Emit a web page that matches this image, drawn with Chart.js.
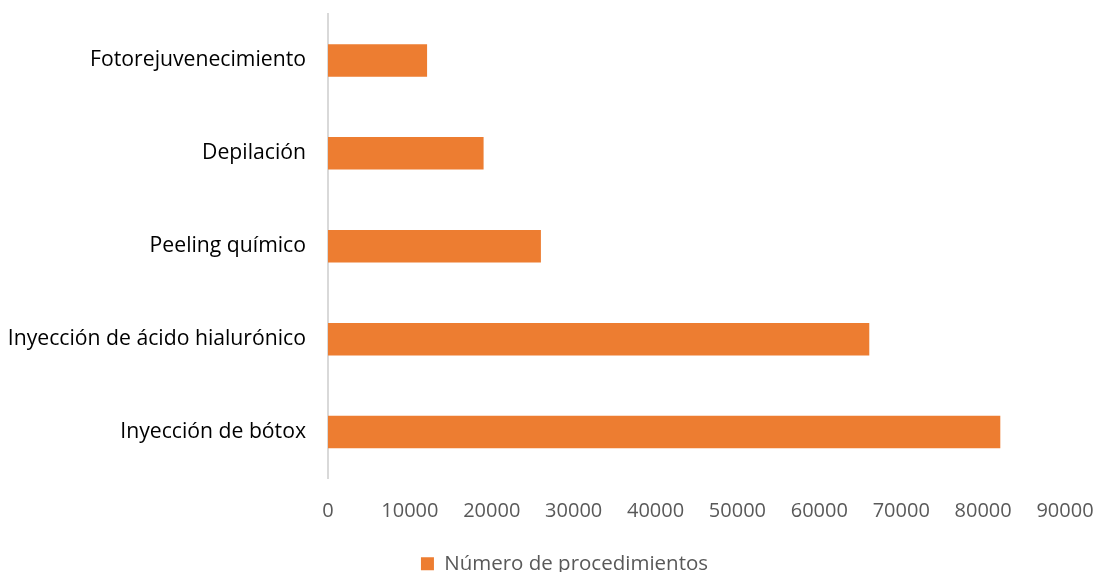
<!DOCTYPE html>
<html>
<head>
<meta charset="utf-8">
<script src="https://cdn.jsdelivr.net/npm/chart.js@4/dist/chart.umd.min.js"></script>
<style>
  html, body { margin: 0; padding: 0; background: #fff; }
  #wrap { width: 1100px; height: 572px; }
</style>
</head>
<body>
<div id="wrap"><canvas id="barChart"></canvas></div>
<script>
// Procedimientos (de arriba hacia abajo)
const procedimientos = [
    "Fotorejuvenecimiento",
    "Depilación",
    "Peeling químico",
    "Inyección de ácido hialurónico",
    "Inyección de bótox",
];
const numeroProcedimientos = [12100, 19000, 26000, 66100, 82100];
const ejeX = [0, 10000, 20000, 30000, 40000, 50000, 60000, 70000, 80000, 90000];

const fuente = "'Open Sans', sans-serif";

// Quita el relleno extra que Chart.js añade por las etiquetas
const sinRelleno = (scale) => {
    scale.paddingTop = 0;
    scale.paddingBottom = 0;
    scale.paddingLeft = 0;
    scale.paddingRight = 0;
};

// Desplaza la leyenda un poco a la derecha
const moverLeyenda = {
    id: "moverLeyenda",
    afterLayout: (chart) => {
        chart.legend.left += 32;
        chart.legend.right += 32;
    },
};

const ctx = document.getElementById("barChart").getContext("2d");
const chart = new Chart(ctx, {
    type: "bar",
    data: {
        labels: procedimientos,
        datasets: [
            {
                label: "Número de procedimientos",
                data: numeroProcedimientos,
                backgroundColor: "#ed7d31",
                borderWidth: 0,
                categoryPercentage: 0.35,
                barPercentage: 1,
            },
        ],
    },
    options: {
        indexAxis: "y",
        responsive: true,
        maintainAspectRatio: false,
        animation: false,
        layout: { padding: { top: 14, right: 35, left: 0, bottom: -12 } },
        scales: {
            x: {
                min: ejeX[0],
                max: ejeX[ejeX.length - 1],
                afterBuildTicks: (scale) => {
                    scale.ticks = ejeX.map((v) => ({ value: v }));
                },
                grid: { display: false },
                border: { display: false },
                ticks: {
                    color: "#595959",
                    font: { family: fuente, size: 20 },
                    padding: 13,
                    maxRotation: 0,
                    callback: (v) => String(v),
                },
                afterFit: (scale) => {
                    scale.height = 75;
                    sinRelleno(scale);
                },
            },
            y: {
                grid: { display: false, drawTicks: false },
                border: { display: true, color: "#d9d9d9", width: 2 },
                ticks: {
                    color: "#000",
                    font: { family: fuente, size: 21.2 },
                    padding: 22,
                },
                afterFit: (scale) => {
                    scale.width = 328;
                    sinRelleno(scale);
                },
            },
        },
        plugins: {
            legend: {
                position: "bottom",
                labels: {
                    color: "#595959",
                    font: { family: fuente, size: 20.5 },
                    boxWidth: 13,
                    boxHeight: 13,
                    padding: 0,
                },
            },
            tooltip: { enabled: false },
        },
    },
    plugins: [moverLeyenda],
});
</script>
</body>
</html>
